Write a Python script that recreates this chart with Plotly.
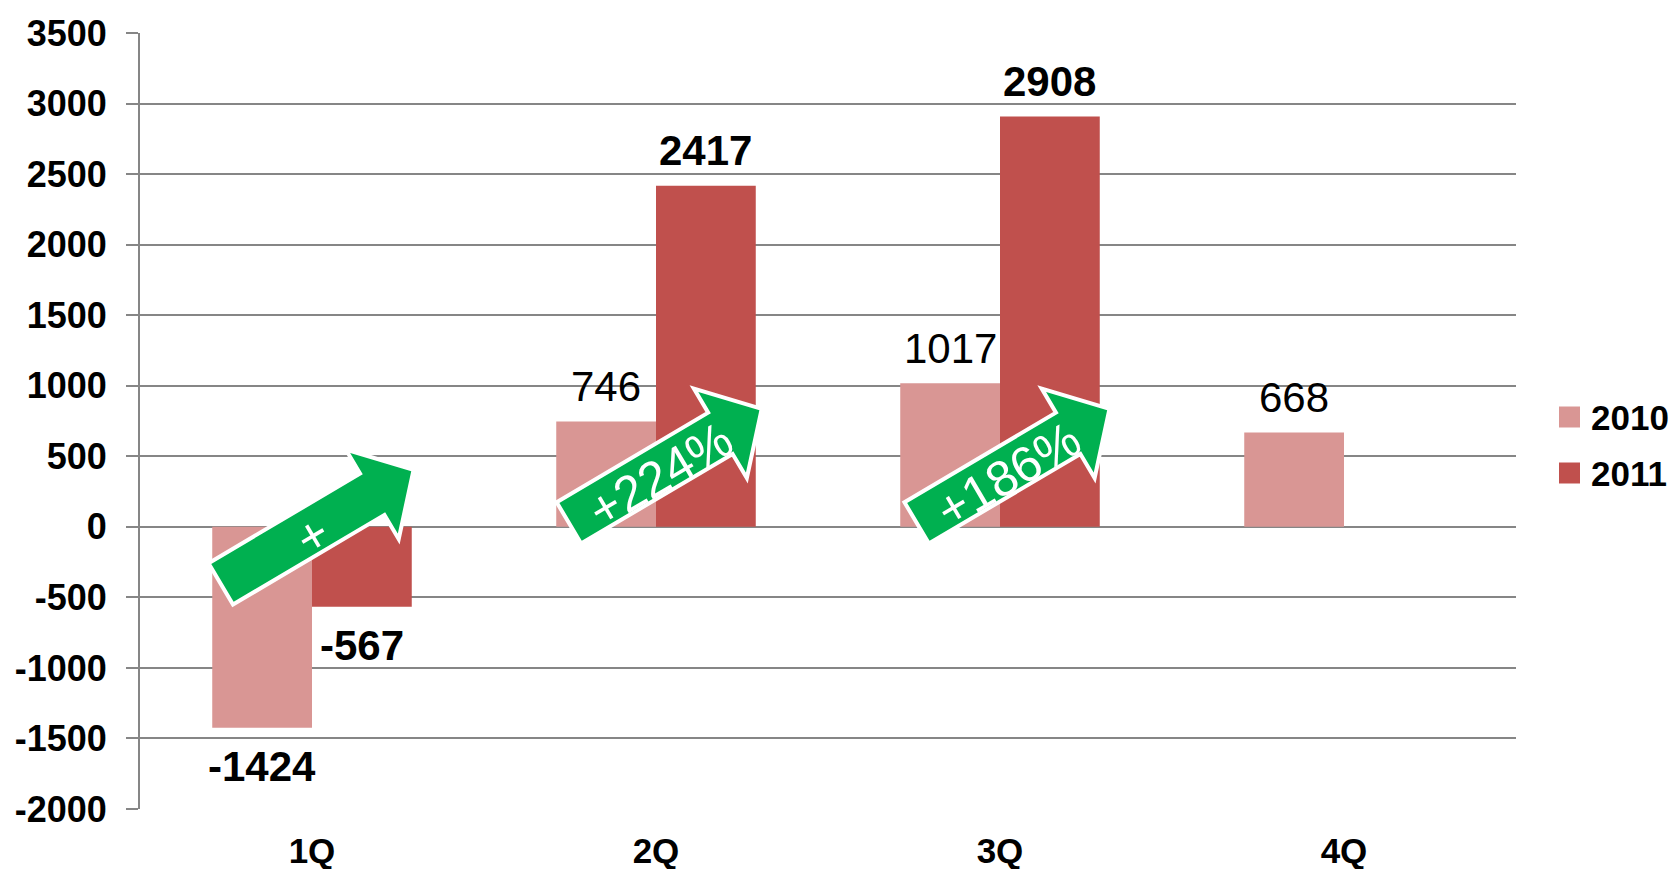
import math
import plotly.graph_objects as go

# ---------------- data ----------------
categories = ["1Q", "2Q", "3Q", "4Q"]
series_names = ["2010", "2011"]
values_2010 = [-1424, 746, 1017, 668]
values_2011 = [-567, 2417, 2908, None]
bold_2010 = [True, False, False, False]
bold_2011 = [True, True, True, True]
series_colors = ["#D99694", "#C0504D"]

y_min, y_max, y_step = -2000, 3500, 500
y_ticks = list(range(y_min, y_max + 1, y_step))
y_tick_labels = [str(v) for v in y_ticks]

arrow_texts = ["+", "+224%", "+186%"]
arrow_x = [0.015, 1.027, 2.038]   # position in category-index units
arrow_y = [0, 432, 432]           # position in value units

# ---------------- layout constants ----------------
W, H = 1677, 869
ML, MR, MT, MB = 140, 161, 33, 60
PW, PH = W - ML - MR, H - MT - MB
GRAY = "#868686"
FONT = "Arial, Liberation Sans, sans-serif"
BARGAP = 0.42
ncat = len(categories)
cat_px = PW / ncat
bar_off_px = (1 - BARGAP) / 4 * cat_px


def to_paper(sx, sy):
    return (sx - ML) / PW, 1 - (sy - MT) / PH


def center_px(xi, yv):
    sx = ML + (xi + 0.5) / ncat * PW
    sy = MT + (y_max - yv) / (y_max - y_min) * PH
    return sx, sy


fig = go.Figure()
for name, vals, col in zip(series_names, [values_2010, values_2011], series_colors):
    fig.add_trace(go.Bar(x=categories, y=vals, name=name, marker_color=col,
                         marker_line_width=0, showlegend=False, hoverinfo="skip"))

# data labels
annotations = []
for si, (vals, bolds) in enumerate([(values_2010, bold_2010), (values_2011, bold_2011)]):
    sign = -1 if si == 0 else 1
    for c, v, b in zip(categories, vals, bolds):
        if v is None:
            continue
        annotations.append(dict(
            x=c, y=v, xref="x", yref="y", text=str(v), showarrow=False,
            xanchor="center", yanchor="middle",
            xshift=sign * bar_off_px, yshift=35 if v > 0 else -39,
            font=dict(family=FONT, size=42, color="black",
                      weight="bold" if b else "normal")))

# arrows
ANG = 30.6
L, Wsh, Hh, Lh = 224, 48, 104, 48
a = math.radians(ANG)
d = (math.cos(a), -math.sin(a))
n = (math.sin(a), math.cos(a))
local = [(-L / 2, -Wsh / 2), (L / 2 - Lh, -Wsh / 2), (L / 2 - Lh, -Hh / 2), (L / 2, 0),
         (L / 2 - Lh, Hh / 2), (L / 2 - Lh, Wsh / 2), (-L / 2, Wsh / 2)]
shapes = []
for txt, xi, yv in zip(arrow_texts, arrow_x, arrow_y):
    cx, cy = center_px(xi, yv)
    pts = []
    for u, v in local:
        sx = cx + u * d[0] + v * n[0]
        sy = cy + u * d[1] + v * n[1]
        pts.append(to_paper(sx, sy))
    path = "M " + " L ".join(f"{p[0]:.5f},{p[1]:.5f}" for p in pts) + " Z"
    shapes.append(dict(type="path", path=path, xref="paper", yref="paper",
                       fillcolor="#00B050", line=dict(color="white", width=4),
                       layer="above"))
    tx, ty = to_paper(cx - 5, cy + 9)
    annotations.append(dict(x=tx, y=ty, xref="paper", yref="paper", text=txt,
                            showarrow=False, textangle=-ANG,
                            xanchor="center", yanchor="middle",
                            font=dict(family=FONT, size=50, color="white")))

# manual legend
for i, (name, col) in enumerate(zip(series_names, series_colors)):
    cy = 417 + i * 56
    x0, y0 = to_paper(1559, cy - 10.5)
    x1, y1 = to_paper(1580, cy + 10.5)
    shapes.append(dict(type="rect", xref="paper", yref="paper", x0=x0, x1=x1,
                       y0=y0, y1=y1, fillcolor=col, line=dict(width=0)))
    lx, ly = to_paper(1589, cy)
    annotations.append(dict(x=lx, y=ly, xref="paper", yref="paper", text=name,
                            showarrow=False, xanchor="left", yanchor="middle",
                            font=dict(family=FONT, size=35, color="black", weight="bold")))

zero_pos = (0 - y_min) / (y_max - y_min)

fig.update_layout(
    width=W, height=H, margin=dict(l=ML, r=MR, t=MT, b=MB, autoexpand=False),
    paper_bgcolor="white", plot_bgcolor="white",
    barmode="group", bargap=BARGAP, bargroupgap=0,
    showlegend=False,
    font=dict(family=FONT, color="black"),
    xaxis=dict(type="category", categoryarray=categories, range=[-0.5, ncat - 0.5],
               showgrid=False, showline=False, zeroline=False, ticks="",
               automargin=False,
               tickfont=dict(size=35, weight="bold"), ticklabelstandoff=18),
    xaxis2=dict(overlaying="x", anchor="free", position=zero_pos, type="linear",
                range=[-0.5, ncat - 0.5], automargin=False,
                tickvals=[i - 0.5 for i in range(ncat + 1)],
                ticks="outside", ticklen=13, tickwidth=2, tickcolor=GRAY,
                showline=True, linecolor=GRAY, linewidth=2,
                showticklabels=False, showgrid=False, zeroline=False,
                layer="below traces"),
    yaxis=dict(range=[y_min, y_max], tickvals=y_ticks, ticktext=y_tick_labels,
               showgrid=True, gridcolor=GRAY, gridwidth=2,
               showline=True, linecolor=GRAY, linewidth=2,
               ticks="outside", ticklen=12, tickwidth=2, tickcolor=GRAY,
               zeroline=False, automargin=False,
               tickfont=dict(size=36, weight="bold"),
               ticklabelstandoff=12),
    shapes=shapes, annotations=annotations,
)

fig.write_html("out.html", config={"displayModeBar": False},
               post_script="document.body.style.margin='0';document.body.style.overflow='hidden';")
